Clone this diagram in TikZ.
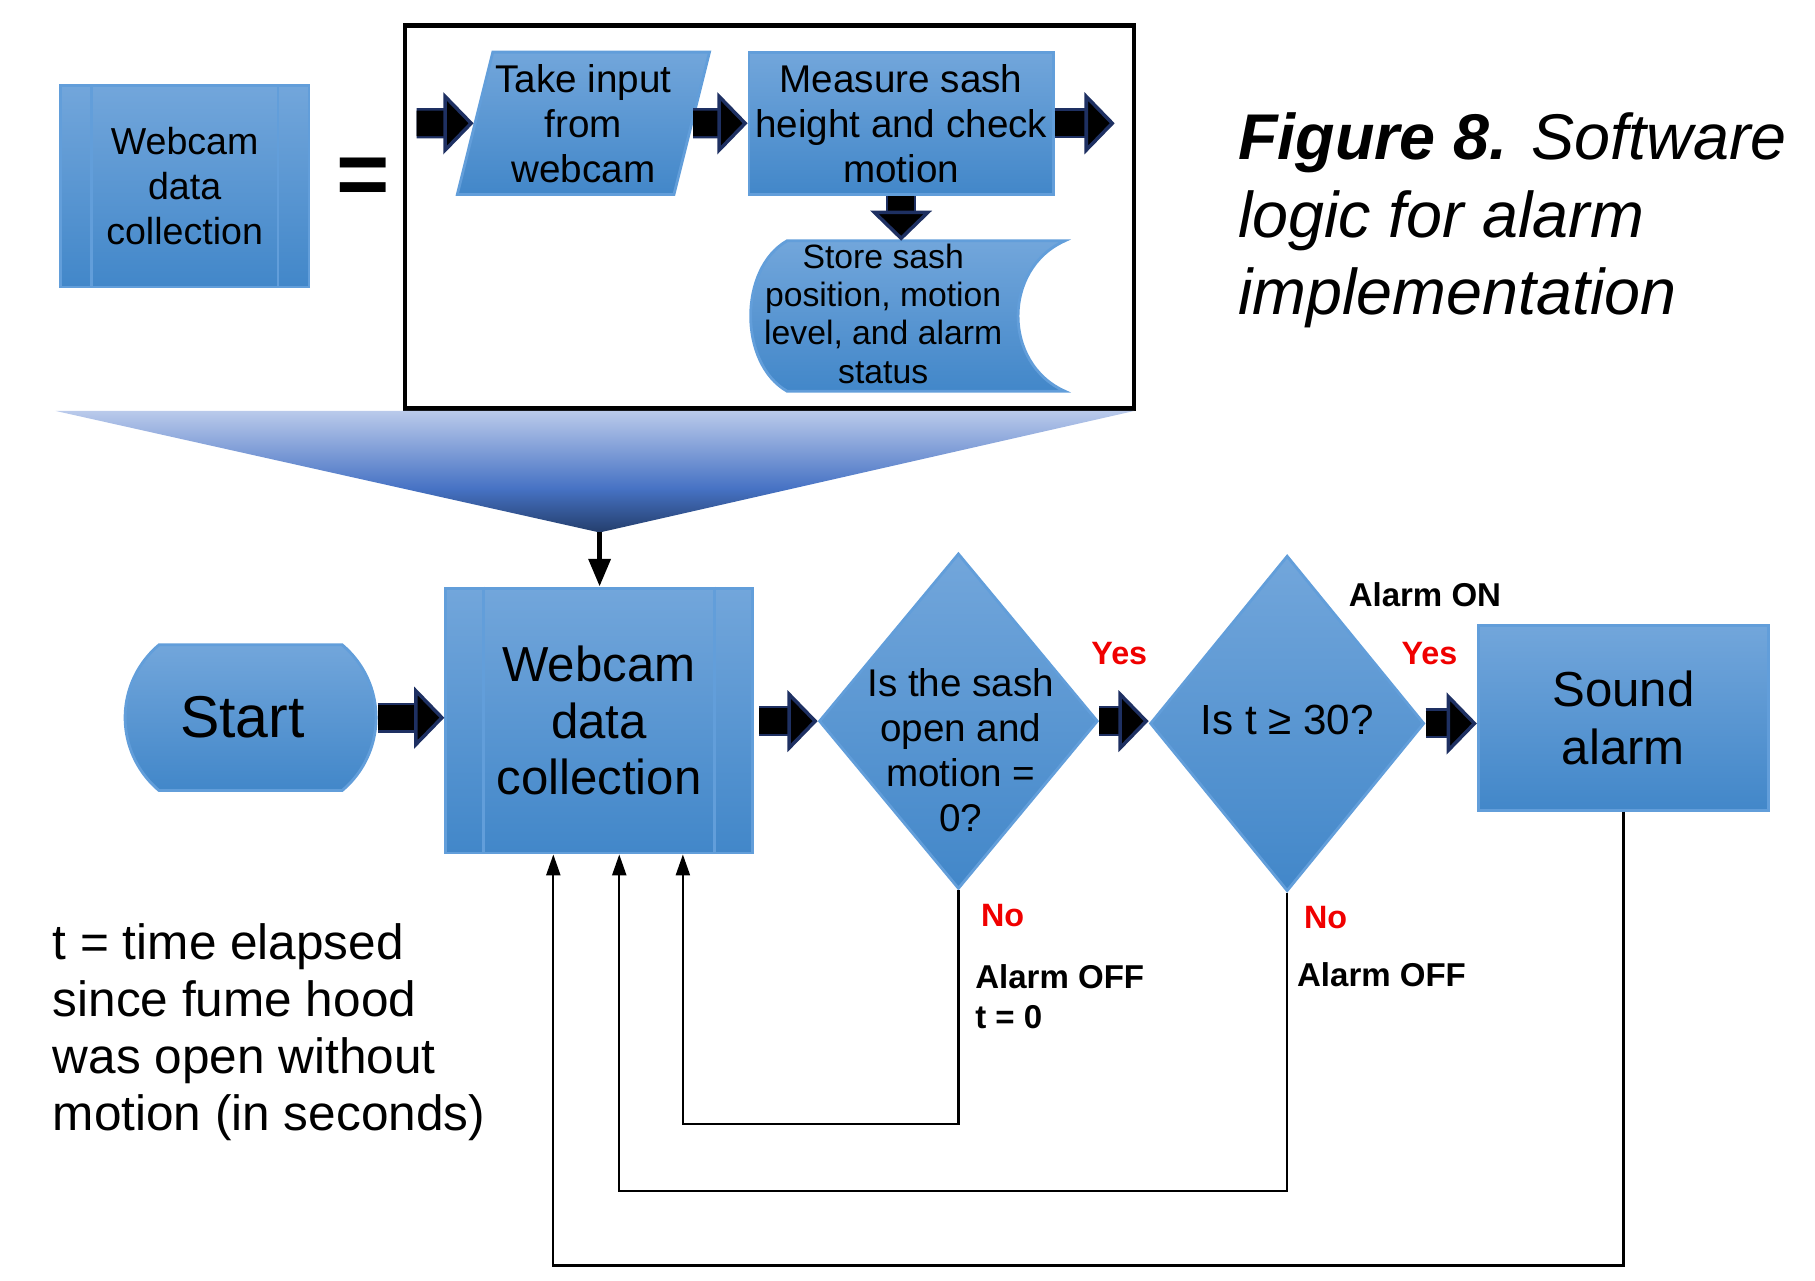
\documentclass[tikz,border=0pt]{standalone}
\usepackage{fontspec}
\setmainfont{Liberation Sans}
\usetikzlibrary{shapes.geometric,shapes.misc,arrows.meta}
\definecolor{boxtop}{RGB}{114,166,219}
\definecolor{boxbot}{RGB}{66,135,201}
\definecolor{boxedge}{RGB}{98,158,218}
\definecolor{arrowedge}{RGB}{30,48,98}
\definecolor{funlight}{RGB}{186,202,235}
\definecolor{funmid}{RGB}{70,114,196}
\definecolor{fundark}{RGB}{36,62,108}
\definecolor{labred}{RGB}{240,0,0}
\newdimen\px \px=0.3293pt
\pgfdeclareverticalshading{funnel}{100bp}{color(0bp)=(fundark); color(25bp)=(fundark); color(43bp)=(funmid); color(75bp)=(funlight); color(100bp)=(funlight)}
\tikzset{
  blockbox/.style={draw=boxedge, line width=0.8pt, top color=boxtop, bottom color=boxbot, align=center, inner sep=0pt},
  sideline/.style={draw=boxedge, line width=0.8pt},
  bigarrow/.style={draw=black, line width=22\px, -{Triangle[width=17.5pt,length=8.6pt,line width=1pt,color=arrowedge,fill=black]},
    preaction={draw=arrowedge, line width=26\px, -, shorten >=24\px}},
  fback/.style={draw=black, line width=2\px, -{Triangle[width=4pt,length=6pt]}},
  downarrow/.style={draw=black, line width=5\px, -{Triangle[width=6pt,length=7.9pt]}},
  yeslab/.style={font=\fontsize{9.2}{11}\selectfont\bfseries, text=labred, inner sep=0pt},
  alarmlab/.style={font=\fontsize{9.4}{11.2}\selectfont\bfseries, align=left, inner sep=0pt},
}

\begin{document}
\begin{tikzpicture}[x=0.011575cm, y=-0.011575cm]
  \useasboundingbox (0,0) rectangle (1568,1106);
  \node[blockbox, minimum width=215\px, minimum height=174\px, font=\fontsize{10.7}{12.8}\selectfont] (wsm) at (159.5,161) {Webcam\\data\\collection};
  \draw[sideline] ([xshift=28\px]wsm.north west) -- ([xshift=28\px]wsm.south west);
  \draw[sideline] ([xshift=-28\px]wsm.north east) -- ([xshift=-28\px]wsm.south east);
  \node[font=\fontsize{26}{26}\selectfont\bfseries, inner sep=0pt] (eq) at (314,157) {=};
  \node[draw, line width=1.2pt, minimum width=630\px, minimum height=331\px, inner sep=0pt] (frame) at (665,187.5) {};

  \node[blockbox, trapezium, trapezium left angle=73.3, trapezium right angle=106.7, trapezium stretches body,
        minimum width=218\px, minimum height=123\px, font=\fontsize{11}{12.8}\selectfont] (tk) at (504,106.5) {Take input\\from\\webcam};
  \node[blockbox, minimum width=263\px, minimum height=123\px, font=\fontsize{11}{12.8}\selectfont] (ms) at (778.5,106.5) {Measure sash\\height and check\\motion};
  \path[blockbox] (680,208) -- (920,208) .. controls (866,232) and (866,314) .. (920,338) -- (680,338)
        .. controls (638,314) and (638,232) .. (680,208) -- cycle;
  \coordinate (sttop) at (780,208);
  \node[align=center, inner sep=0pt, font=\fontsize{9.6}{10.9}\selectfont] (st) at (763,271) {Store sash\\position, motion\\level, and alarm\\status};
  \coordinate (in0) at (360,106.5);
  \coordinate (out0) at (963,106.5);
  \draw[bigarrow] (in0) -- (tk.west);
  \draw[bigarrow] (tk.east) -- (ms.west);
  \draw[bigarrow] (ms.east) -- (out0);
  \draw[bigarrow] (ms.south) -- (ms.south |- sttop);

  \shade[shading=funnel] (48,355) -- (980,355) -- (518,460) -- cycle;
  \coordinate (apex) at (518,460);

  \node[blockbox, rounded rectangle, rounded rectangle arc length=100, minimum width=217\px, minimum height=126\px,
        font=\fontsize{16.8}{18}\selectfont] (start) at (216.5,620) {\hspace*{-14\px}Start};
  \node[blockbox, minimum width=265\px, minimum height=229\px, font=\fontsize{14}{16}\selectfont] (wdc) at (517.5,622.5) {Webcam\\data\\collection};
  \draw[sideline] ([xshift=34\px]wdc.north west) -- ([xshift=34\px]wdc.south west);
  \draw[sideline] ([xshift=-34\px]wdc.north east) -- ([xshift=-34\px]wdc.south east);
  \node[blockbox, diamond, minimum width=241\px, minimum height=290\px] (d1) at (828,623) {};
  \node[align=center, inner sep=0pt, font=\fontsize{11}{12.8}\selectfont] (q1) at (830,648) {Is the sash\\open and\\motion =\\0?};
  \node[blockbox, diamond, minimum width=237\px, minimum height=290\px] (d2) at (1112,625) {};
  \node[inner sep=0pt, font=\fontsize{12}{14}\selectfont] (q2) at (1112,622) {Is t ≥ 30?};
  \node[blockbox, minimum width=251\px, minimum height=160\px, font=\fontsize{14}{16.5}\selectfont] (sa) at (1402.5,620) {Sound\\alarm};

  \draw[downarrow] (apex) -- (apex |- wdc.north);
  \draw[bigarrow] (start.east) -- (start.east -| wdc.west);
  \draw[bigarrow] ([xshift=5\px]wdc.east |- d1.west) -- (d1.west);
  \draw[bigarrow] (d1.east) -- (d1.east -| d2.west);
  \draw[bigarrow] (d2.east) -- (d2.east -| sa.west);

  \node[yeslab] (y1) at (967,565) {Yes};
  \node[yeslab] (y2) at (1235,565) {Yes};
  \node[alarmlab] (on) at (1231,514) {Alarm ON};
  \node[yeslab, anchor=west] (n1) at (847,791) {No};
  \node[yeslab, anchor=west] (n2) at (1126,793) {No};
  \node[alarmlab, anchor=north west] (off1) at (842,833) {Alarm OFF\\t = 0};
  \node[alarmlab, anchor=north west] (off2) at (1120,831) {Alarm OFF};

  \draw[fback] (d1.south) -- ++(0,202) -| ([xshift=72.5\px]wdc.south);
  \draw[fback] (d2.south) -- ++(0,258) -| ([xshift=17.5\px]wdc.south);
  \draw[fback] (sa.south) -- ++(0,392) -| ([xshift=-39.5\px]wdc.south);

  \node[anchor=north west, align=left, inner sep=0pt, font=\fontsize{14.1}{16.3}\selectfont] (leg) at (45,797)
    {t = time elapsed\\since fume hood\\was open without\\motion (in seconds)};
  \node[anchor=north west, align=left, inner sep=0pt, font=\fontsize{18.4}{22}\selectfont\itshape] (cap) at (1069,97)
    {\textbf{Figure 8.} Software\\logic for alarm\\implementation};
\end{tikzpicture}
\end{document}
